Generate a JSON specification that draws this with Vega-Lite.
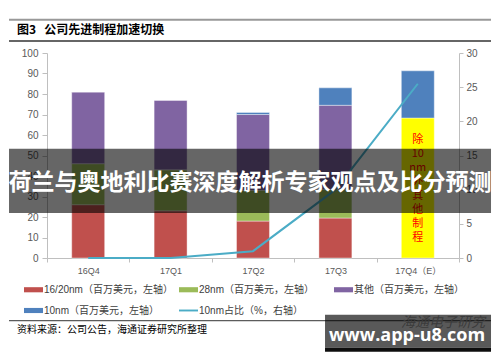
{
  "$schema": "https://vega.github.io/schema/vega-lite/v6.json",
  "width": 412,
  "height": 205,
  "autosize": {"type": "none"},
  "padding": {"left": 47, "top": 53, "right": 41, "bottom": 104},
  "background": "#ffffff",
  "config": {"view": {"stroke": null}},
  "layer": [
    {
      "data": {
        "values": [
          {"q": "16Q4", "s": "16/20nm（百万美元，左轴）", "k": 1, "v": 26},
          {"q": "16Q4", "s": "28nm（百万美元，左轴）", "k": 2, "v": 20},
          {"q": "16Q4", "s": "其他（百万美元，左轴）", "k": 3, "v": 35},
          {"q": "16Q4", "s": "10nm（百万美元，左轴）", "k": 4, "v": 0},
          {"q": "17Q1", "s": "16/20nm（百万美元，左轴）", "k": 1, "v": 23},
          {"q": "17Q1", "s": "28nm（百万美元，左轴）", "k": 2, "v": 20},
          {"q": "17Q1", "s": "其他（百万美元，左轴）", "k": 3, "v": 34},
          {"q": "17Q1", "s": "10nm（百万美元，左轴）", "k": 4, "v": 0},
          {"q": "17Q2", "s": "16/20nm（百万美元，左轴）", "k": 1, "v": 18},
          {"q": "17Q2", "s": "28nm（百万美元，左轴）", "k": 2, "v": 15},
          {"q": "17Q2", "s": "其他（百万美元，左轴）", "k": 3, "v": 37},
          {"q": "17Q2", "s": "10nm（百万美元，左轴）", "k": 4, "v": 1},
          {"q": "17Q3", "s": "16/20nm（百万美元，左轴）", "k": 1, "v": 19.5},
          {"q": "17Q3", "s": "28nm（百万美元，左轴）", "k": 2, "v": 14},
          {"q": "17Q3", "s": "其他（百万美元，左轴）", "k": 3, "v": 41},
          {"q": "17Q3", "s": "10nm（百万美元，左轴）", "k": 4, "v": 8.5},
          {"q": "17Q4（E）", "s": "除10nm外其他制程", "k": 0, "v": 68.3, "note": "除\n10\nnm\n外\n其\n他\n制\n程"},
          {"q": "17Q4（E）", "s": "10nm（百万美元，左轴）", "k": 4, "v": 23}
        ]
      },
      "encoding": {
        "x": {
          "field": "q",
          "type": "nominal",
          "sort": null,
          "scale": {"paddingInner": 0, "paddingOuter": 0},
          "axis": {
            "title": null,
            "labelAngle": 0,
            "labelFontSize": 9,
            "labelFont": "Liberation Sans, Noto Sans CJK SC",
            "labelColor": "#595959",
            "labelPadding": 4,
            "tickBand": "extent",
            "tickSize": 4,
            "tickColor": "#bfbfbf",
            "domainColor": "#bfbfbf",
            "grid": false
          }
        }
      },
      "layer": [
        {
          "mark": {"type": "bar", "width": {"band": 0.4}, "stroke": "#ffffff", "strokeOpacity": 0.5, "strokeWidth": 0.8},
          "encoding": {
            "y": {
              "field": "v",
              "type": "quantitative",
              "stack": "zero",
              "scale": {"domain": [0, 100], "nice": false},
              "axis": {
                "title": null,
                "values": [0, 10, 20, 30, 40, 50, 60, 70, 80, 90, 100],
                "labelOverlap": false,
                "labelFontSize": 10,
                "labelFont": "Liberation Sans",
                "labelColor": "#595959",
                "labelPadding": 4,
                "tickSize": 5,
                "tickColor": "#bfbfbf",
                "domainColor": "#bfbfbf",
                "grid": false
              }
            },
            "order": {"field": "k", "type": "quantitative", "sort": "ascending"},
            "color": {
              "field": "s",
              "type": "nominal",
              "scale": {
                "domain": ["除10nm外其他制程", "16/20nm（百万美元，左轴）", "28nm（百万美元，左轴）", "其他（百万美元，左轴）", "10nm（百万美元，左轴）", "10nm占比（%，右轴）"],
                "range": ["#ffff00", "#c0504d", "#9bbb59", "#8064a2", "#4f81bd", "#4bacc6"]
              },
              "legend": {
                "title": null,
                "orient": "none",
                "legendX": -23,
                "legendY": 227,
                "direction": "horizontal",
                "columns": 3,
                "gridAlign": "all",
                "columnPadding": 6,
                "rowPadding": 6,
                "values": ["16/20nm（百万美元，左轴）", "28nm（百万美元，左轴）", "其他（百万美元，左轴）", "10nm（百万美元，左轴）", "10nm占比（%，右轴）"],
                "symbolType": {"expr": "datum.value === '10nm占比（%，右轴）' ? 'M-1,-0.1H1V0.1H-1Z' : 'M-1,-0.27H1V0.27H-1Z'"},
                "symbolSize": 361,
                "symbolStrokeWidth": 0,
                "symbolFillColor": {"expr": "scale('color', datum.value)"},
                "symbolOpacity": 1,
                "labelFontSize": 10,
                "labelFont": "Liberation Sans, Noto Sans CJK SC",
                "labelColor": "#404040",
                "labelOffset": 1,
                "labelLimit": 300
              }
            }
          }
        },
        {
          "transform": [{"filter": "datum.s === '除10nm外其他制程'"}],
          "mark": {"type": "text", "lineBreak": "\n", "lineHeight": 14, "fontSize": 11, "color": "#ff0000", "font": "Noto Sans CJK SC", "baseline": "middle", "align": "center"},
          "encoding": {
            "y": {
              "datum": 57.7,
              "type": "quantitative",
              "axis": {
                "title": null,
                "values": [0, 10, 20, 30, 40, 50, 60, 70, 80, 90, 100],
                "labelOverlap": false,
                "labelFontSize": 10,
                "labelFont": "Liberation Sans",
                "labelColor": "#595959",
                "labelPadding": 4,
                "tickSize": 5,
                "tickColor": "#bfbfbf",
                "domainColor": "#bfbfbf",
                "grid": false
              }
            },
            "text": {"field": "note"}
          }
        }
      ]
    },
    {
      "data": {
        "values": [
          {"q": "16Q4", "s": "10nm占比（%，右轴）", "p": 0},
          {"q": "17Q1", "s": "10nm占比（%，右轴）", "p": 0},
          {"q": "17Q2", "s": "10nm占比（%，右轴）", "p": 1},
          {"q": "17Q3", "s": "10nm占比（%，右轴）", "p": 10},
          {"q": "17Q4（E）", "s": "10nm占比（%，右轴）", "p": 25.5}
        ]
      },
      "mark": {"type": "line", "strokeWidth": 2},
      "encoding": {
        "x": {"field": "q", "type": "nominal", "sort": null, "axis": null},
        "y": {
          "field": "p",
          "type": "quantitative",
          "scale": {"domain": [0, 30], "nice": false},
          "axis": {
            "orient": "right",
            "title": null,
            "values": [0, 5, 10, 15, 20, 25, 30],
            "labelOverlap": false,
            "labelFontSize": 10,
            "labelFont": "Liberation Sans",
            "labelColor": "#595959",
            "labelPadding": 3,
            "tickSize": 4,
            "tickColor": "#bfbfbf",
            "domainColor": "#bfbfbf",
            "grid": false
          }
        },
        "color": {"field": "s", "type": "nominal"}
      }
    },
    {
      "data": {"values": [{"title": "图3\u00a0\u00a0\u00a0公司先进制程加速切换", "banner": "荷兰与奥地利比赛深度解析专家观点及比分预测", "source": "资料来源：公司公告，海通证券研究所整理", "site": "www.app-u8.com", "mark": "海通电子研究"}]},
      "layer": [
        {
          "mark": {"type": "rule", "color": "#999999", "strokeWidth": 2},
          "encoding": {
            "x": {"datum": -0.0922, "type": "quantitative", "scale": {"domain": [0, 1], "nice": false, "zero": false}, "axis": null},
            "x2": {"datum": 1.0777},
            "y": {"datum": 1.1624, "type": "quantitative", "scale": {"domain": [0, 1], "nice": false, "zero": false}, "axis": null}
          }
        },
        {
          "mark": {"type": "rule", "color": "#333333", "strokeWidth": 1.5},
          "encoding": {
            "x": {"datum": -0.0922, "type": "quantitative"},
            "x2": {"datum": 1.0777},
            "y": {"datum": 1.0585, "type": "quantitative"}
          }
        },
        {
          "mark": {"type": "text", "align": "left", "baseline": "middle", "fontSize": 12, "fontWeight": "bold", "font": "Noto Sans CJK SC", "color": "#000000"},
          "encoding": {
            "x": {"datum": -0.0728, "type": "quantitative"},
            "y": {"datum": 1.1102, "type": "quantitative"},
            "text": {"field": "title"}
          }
        },
        {
          "mark": {"type": "rule", "color": "#333333", "strokeWidth": 1},
          "encoding": {
            "x": {"datum": -0.0922, "type": "quantitative"},
            "x2": {"datum": 1.0777},
            "y": {"datum": -0.3059, "type": "quantitative"}
          }
        },
        {
          "mark": {"type": "text", "align": "left", "baseline": "middle", "fontSize": 10, "font": "Noto Sans CJK SC", "color": "#000000"},
          "encoding": {
            "x": {"datum": -0.0728, "type": "quantitative"},
            "y": {"datum": -0.3498, "type": "quantitative"},
            "text": {"field": "source"}
          }
        },
        {
          "mark": {"type": "text", "align": "center", "baseline": "middle", "fontSize": 14, "font": "Noto Sans CJK SC", "color": "#aaaaaa", "fontStyle": "italic"},
          "encoding": {
            "x": {"datum": 0.961, "type": "quantitative"},
            "y": {"datum": -0.3156, "type": "quantitative"},
            "text": {"field": "mark"}
          }
        },
        {
          "mark": {"type": "rect", "color": "#000000", "opacity": 0.6},
          "encoding": {
            "x": {"datum": -0.0922, "type": "quantitative"},
            "x2": {"datum": 1.0777},
            "y": {"datum": 0.5332, "type": "quantitative"},
            "y2": {"datum": 0.2195}
          }
        },
        {
          "mark": {"type": "text", "align": "center", "baseline": "middle", "fontSize": 23, "fontWeight": "bold", "font": "Noto Sans CJK SC", "color": "#ffffff"},
          "encoding": {
            "x": {"datum": 0.4927, "type": "quantitative"},
            "y": {"datum": 0.3673, "type": "quantitative"},
            "text": {"field": "banner"}
          }
        },
        {
          "mark": {"type": "rect", "color": "#000000", "opacity": 0.65},
          "encoding": {
            "x": {"datum": 0.6748, "type": "quantitative"},
            "x2": {"datum": 1.0777},
            "y": {"datum": -0.2766, "type": "quantitative"},
            "y2": {"datum": -0.4376}
          }
        },
        {
          "mark": {"type": "rect", "color": "#000000", "opacity": 0.95},
          "encoding": {
            "x": {"datum": 0.6748, "type": "quantitative"},
            "x2": {"datum": 1.0777},
            "y": {"datum": -0.4376, "type": "quantitative"},
            "y2": {"datum": -0.4571}
          }
        },
        {
          "mark": {"type": "text", "align": "center", "baseline": "middle", "fontSize": 18, "fontWeight": "bold", "font": "Open Sans", "color": "#ffffff"},
          "encoding": {
            "x": {"datum": 0.8738, "type": "quantitative"},
            "y": {"datum": -0.379, "type": "quantitative"},
            "text": {"field": "site"}
          }
        }
      ]
    }
  ],
  "resolve": {"scale": {"x": "independent", "y": "independent"}}
}
